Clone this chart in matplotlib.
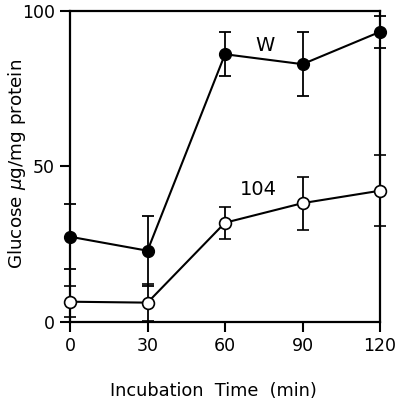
import matplotlib
matplotlib.use("Agg")
import matplotlib.pyplot as plt

# incubation time (min)
times = [0, 30, 60, 90, 120]

# glucose (ug/mg protein), strain W (filled) and 104 (open)
w_mean = [27.4, 22.9, 86.1, 82.9, 93.3]
w_err = [10.5, 11.3, 7.0, 10.3, 5.2]
m104_mean = [6.5, 6.2, 31.9, 38.2, 42.2]
m104_err = [5.0, 6.0, 5.2, 8.5, 11.5]

x_ticks = [0, 30, 60, 90, 120]
y_ticks = [0, 50, 100]

plt.rcParams['font.family'] = ['DejaVu Sans']

fig = plt.figure(figsize=(4.0, 4.08), dpi=100)
ax = fig.add_axes([0.175, 0.211, 0.775, 0.762])

ax.errorbar(times, w_mean, yerr=w_err, color='black', lw=1.5,
            marker='o', ms=8.5, mfc='black', mec='black',
            capsize=4.5, elinewidth=1.3, capthick=1.3, clip_on=False, zorder=3)
ax.errorbar(times, m104_mean, yerr=m104_err, color='black', lw=1.5,
            marker='o', ms=8.5, mfc='white', mec='black', mew=1.2,
            capsize=4.5, elinewidth=1.3, capthick=1.3, clip_on=False, zorder=3)

ax.text(75.5, 89, 'W', fontsize=14, ha='center', va='center')
ax.text(73, 42.5, '104', fontsize=14, ha='center', va='center')

ax.set_xlim(0, 120)
ax.set_ylim(0, 100)
ax.set_xticks(x_ticks)
ax.set_yticks(y_ticks)
ax.tick_params(direction='out', length=7, width=1.5, labelsize=12.5, pad=4)
for s in ax.spines.values():
    s.set_linewidth(1.6)

# axis titles placed directly so they sit where the original has them
fig.text(0.533, 0.042, 'Incubation  Time  (min)', fontsize=12.8,
         ha='center', va='center')
fig.text(0.043, 0.598, r'Glucose $\mu$g/mg protein', fontsize=13.2,
         ha='center', va='center', rotation=90)

fig.savefig('out.png', dpi=100)
